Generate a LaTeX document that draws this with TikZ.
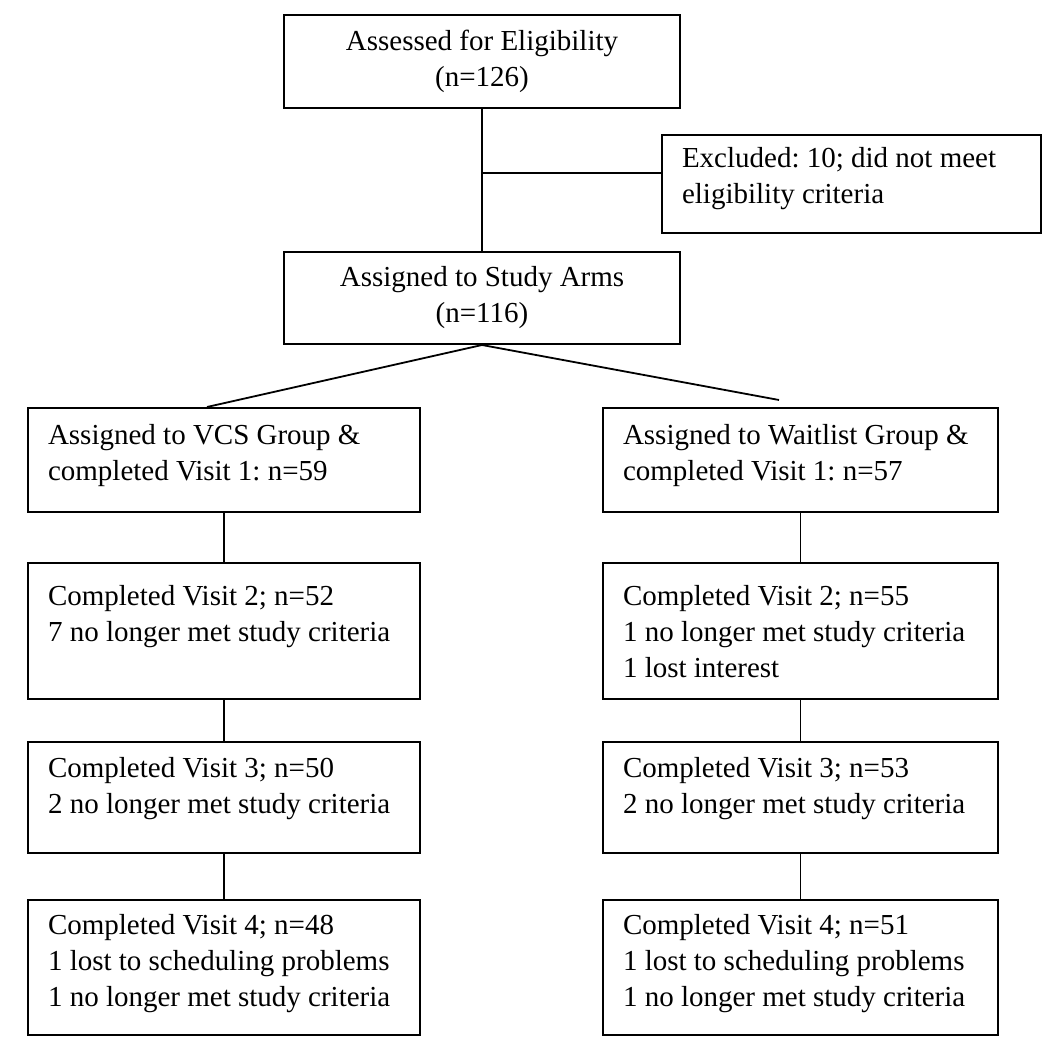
\documentclass[tikz,border=0pt]{standalone}
\usepackage{fontspec}
\setmainfont{Liberation Serif}
\begin{document}
\begin{tikzpicture}[x=1pt,y=-1pt,
  every node/.style={font=\fontsize{29}{36}\selectfont\frenchspacing},
  frame/.style={draw=black, line width=2pt},
  centerbox/.style={frame, minimum width=396pt, align=center, inner sep=0pt},
  leftbox/.style={frame, anchor=north west, align=flush left, inner xsep=20pt, inner ysep=0pt, text height=#1},
  leftbox/.default=37pt,
  link/.style={draw=black, line width=1.8pt}]
\useasboundingbox (0,0) rectangle (1050,1048);
\fill[white] (0,0) rectangle (1050,1048);

\node[centerbox, minimum height=93pt] (top) at (482,61.5) {Assessed for Eligibility\\(n=126)};
\node[leftbox=33pt, text width=339pt, text depth=65pt] (excl) at (661,134) {Excluded: 10; did not meet\\eligibility criteria};
\node[centerbox, minimum height=92pt] (assign) at (482,298) {Assigned to Study Arms\\(n=116)};

\node[leftbox, text width=352pt, text depth=67pt] (L1) at (27,407) {Assigned to VCS Group \&\\completed Visit 1: n=59};
\node[leftbox=42pt, text width=352pt, text depth=94pt] (L2) at (27,562) {Completed Visit 2; n=52\\7 no longer met study criteria};
\node[leftbox=35pt, text width=352pt, text depth=76pt] (L3) at (27,741) {Completed Visit 3; n=50\\2 no longer met study criteria};
\node[leftbox=34pt, text width=352pt, text depth=101pt] (L4) at (27,899) {Completed Visit 4; n=48\\1 lost to scheduling problems\\1 no longer met study criteria};

\node[leftbox, text width=355pt, text depth=67pt] (R1) at (602,407) {Assigned to Waitlist Group \&\\completed Visit 1: n=57};
\node[leftbox=42pt, text width=355pt, text depth=94pt] (R2) at (602,562) {Completed Visit 2; n=55\\1 no longer met study criteria\\1 lost interest};
\node[leftbox=35pt, text width=355pt, text depth=76pt] (R3) at (602,741) {Completed Visit 3; n=53\\2 no longer met study criteria};
\node[leftbox=34pt, text width=355pt, text depth=101pt] (R4) at (602,899) {Completed Visit 4; n=51\\1 lost to scheduling problems\\1 no longer met study criteria};

\coordinate (j) at (482,173);
\coordinate (lend) at (207,407);
\coordinate (rend) at (779,400);

\draw[link] (top.south) -- (assign.north);
\draw[link] (j) -- (excl.west |- j);
\draw[link] (assign.south) -- (lend);
\draw[link] (assign.south) -- (rend);
\draw[link] (L1.south) -- (L2.north);
\draw[link] (L2.south) -- (L3.north);
\draw[link] (L3.south) -- (L4.north);
\draw[link] (R1.south) -- (R2.north);
\draw[link] (R2.south) -- (R3.north);
\draw[link] (R3.south) -- (R4.north);
\end{tikzpicture}
\end{document}
